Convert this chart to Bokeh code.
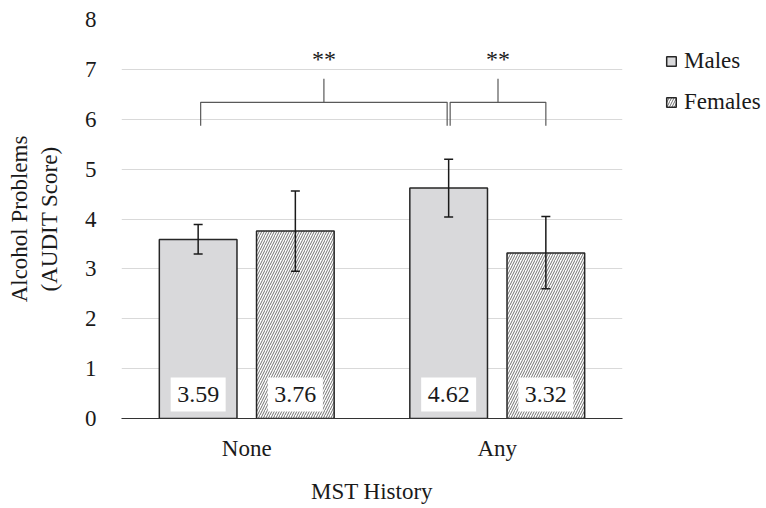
from bokeh.plotting import figure
from bokeh.models import (FactorRange, Range1d, Whisker, ColumnDataSource, Legend,
                          LegendItem, SingleIntervalTicker, TeeHead)
from bokeh.transform import dodge
from bokeh.core.properties import value
from bokeh.embed import file_html
from bokeh.resources import INLINE

# ---- data ----
categories = ["None", "Any"]
males = [3.59, 4.62]
females = [3.76, 3.32]
males_lower = [3.30, 4.04]
males_upper = [3.89, 5.20]
females_lower = [2.95, 2.60]
females_upper = [4.56, 4.05]
male_labels = ["3.59", "4.62"]
female_labels = ["3.76", "3.32"]
series_names = ["Males", "Females"]
x_title = "MST History"
y_title = "Alcohol Problems\n(AUDIT Score)"
sig_labels = ["**", "**"]

FONT = "Liberation Serif"
FS = "23px"
OFF = 0.194
W = 0.31

src = ColumnDataSource(dict(cat=categories, males=males, females=females,
                            ml=males_lower, mu=males_upper,
                            fl=females_lower, fu=females_upper,
                            mlab=male_labels, flab=female_labels,
                            lab_y=[0.48, 0.48]))

p = figure(frame_width=501, frame_height=399,
           x_range=FactorRange(factors=categories, range_padding=0),
           y_range=Range1d(0, 8),
           output_backend="svg", toolbar_location=None,
           min_border_left=121, min_border_top=19, min_border_bottom=85,
           min_border_right=0)
p.outline_line_color = None
p.background_fill_color = "white"

r_m = p.vbar(x=dodge("cat", -OFF, range=p.x_range), top="males", width=W, source=src,
             fill_color="#d9d9db", line_color="#262626", line_width=1.5)
r_f = p.vbar(x=dodge("cat", OFF, range=p.x_range), top="females", width=W, source=src,
             fill_color="white", line_color="#262626", line_width=1.5,
             hatch_pattern="/", hatch_color="#4d4d4d", hatch_scale=5, hatch_weight=0.8)

for base_off, lo, hi in [(-OFF, "ml", "mu"), (OFF, "fl", "fu")]:
    wk = Whisker(base=dodge("cat", base_off, range=p.x_range), lower=lo, upper=hi,
                 source=src, line_color="#1a1a1a", line_width=1.5, level="annotation",
                 upper_head=TeeHead(size=9, line_color="#1a1a1a", line_width=1.5),
                 lower_head=TeeHead(size=9, line_color="#1a1a1a", line_width=1.5))
    p.add_layout(wk)

# value label boxes
for off, col in [(-OFF, "mlab"), (OFF, "flab")]:
    p.rect(x=dodge("cat", off, range=p.x_range), y="lab_y", width=55, height=34,
           width_units="screen", height_units="screen", source=src,
           fill_color="white", line_color=None)
    p.text(x=dodge("cat", off, range=p.x_range), y="lab_y", text=col, source=src,
           text_font=value(FONT), text_font_size="24px", text_color="#1a1a1a",
           text_align="center", text_baseline="middle")

# significance brackets (synthetic categorical coordinates)
c_none = categories.index("None") + 0.5
c_any = categories.index("Any") + 0.5
m_none = c_none - OFF
m_any = c_any - OFF
f_any = c_any + OFF
gap = 0.006
y_end, y_bar, y_tick, y_star = 5.87, 6.34, 6.81, 7.2
brackets = [(m_none + 0.01, m_any - gap), (m_any + gap, f_any)]
xs, ys = [], []
sx, sy = [], []
for a, b in brackets:
    xs.append([a, a, b, b]); ys.append([y_end, y_bar, y_bar, y_end])
    mid = (a + b) / 2
    xs.append([mid, mid]); ys.append([y_bar, y_tick])
    sx.append(mid); sy.append(y_star)
p.multi_line(xs=xs, ys=ys, line_color="#595959", line_width=1.2)
p.text(x=sx, y=sy, text=sig_labels, text_font=value(FONT), text_font_size="24px",
       text_color="#1a1a1a", text_align="center", text_baseline="middle")

# axes
p.yaxis.ticker = SingleIntervalTicker(interval=1)
p.yaxis.axis_line_color = None
p.yaxis.major_tick_line_color = None
p.yaxis.minor_tick_line_color = None
p.yaxis.major_label_standoff = 19
p.yaxis.major_label_text_font = FONT
p.yaxis.major_label_text_font_size = FS
p.yaxis.major_label_text_color = "#1a1a1a"
p.yaxis.axis_label = y_title
p.yaxis.axis_label_text_font = FONT
p.yaxis.axis_label_text_font_size = FS
p.yaxis.axis_label_text_font_style = "normal"
p.yaxis.axis_label_text_color = "#1a1a1a"
p.yaxis.axis_label_standoff = 20

p.xaxis.axis_line_color = "#333333"
p.xaxis.axis_line_width = 1.2
p.xaxis.major_tick_line_color = None
p.xaxis.minor_tick_line_color = None
p.xaxis.major_label_standoff = 11
p.xaxis.major_label_text_font = FONT
p.xaxis.major_label_text_font_size = FS
p.xaxis.major_label_text_color = "#1a1a1a"
p.xaxis.axis_label = x_title
p.xaxis.axis_label_text_font = FONT
p.xaxis.axis_label_text_font_size = FS
p.xaxis.axis_label_text_font_style = "normal"
p.xaxis.axis_label_text_color = "#1a1a1a"
p.xaxis.axis_label_standoff = 15

p.xgrid.grid_line_color = None
p.ygrid.grid_line_color = "#d9d9d9"
p.ygrid.grid_line_width = 1.2

legend = Legend(items=[LegendItem(label=series_names[0], renderers=[r_m]),
                       LegendItem(label=series_names[1], renderers=[r_f])],
                location=(43, 303), orientation="vertical",
                label_text_font=FONT, label_text_font_size=FS,
                label_text_color="#1a1a1a",
                glyph_width=12, glyph_height=12, label_height=20,
                label_standoff=7, spacing=15, padding=4, margin=0,
                border_line_color=None, background_fill_alpha=0)
p.add_layout(legend, "right")

open("out.html", "w").write(file_html(p, INLINE))
